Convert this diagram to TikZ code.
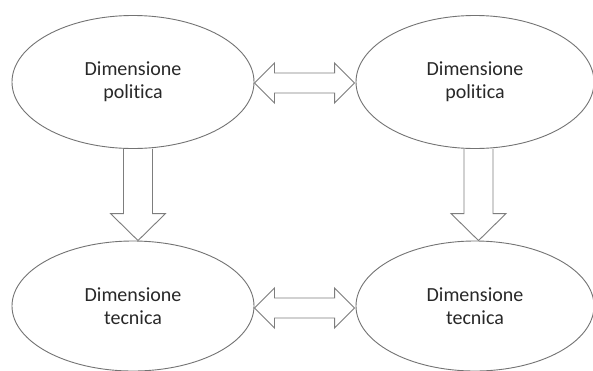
\documentclass[tikz,border=0pt]{standalone}
\usepackage{fontspec}
\setmainfont[Ligatures={NoCommon}]{Carlito}
\usetikzlibrary{shapes.geometric,calc}
\definecolor{elline}{RGB}{115,115,115}
\definecolor{arline}{RGB}{125,125,125}
\definecolor{txt}{RGB}{40,40,40}
\tikzset{
  ell/.style={ellipse, draw=elline, line width=0.9pt, inner sep=0pt,
    minimum width=242pt, minimum height=133pt, align=center,
    text=txt, font=\fontsize{20pt}{23pt}\selectfont},
  blk/.style={draw=arline, line width=0.9pt, line join=miter}
}
\begin{document}
\begin{tikzpicture}[x=1pt,y=-1pt]
\useasboundingbox (0,0) rectangle (593,370);
\fill[white] (0,0) rectangle (593,370);
\node[ell] (pl) at (133,82) {Dimensione\\politica};
\node[ell, minimum width=238pt] (pr) at (475,82) {Dimensione\\politica};
\node[ell, minimum height=130pt] (tl) at (133,306) {Dimensione\\tecnica};
\node[ell, minimum width=238pt, minimum height=130pt] (tr) at (475,306) {Dimensione\\tecnica};
% horizontal double arrows
\coordinate (L1) at ($(pl.east)+(0,1)$);
\coordinate (R1) at ($(pr.west)+(-1,1)$);
\coordinate (L2) at ($(tl.east)+(0,2)$);
\coordinate (R2) at ($(tr.west)+(-1,2)$);
\foreach \l/\r in {L1/R1, L2/R2}{
  \draw[blk] (\l) -- ($(\l)+(20,-20)$) -- ($(\l)+(20,-10)$)
    -- ($(\r)+(-20,-10)$) -- ($(\r)+(-20,-20)$) -- (\r)
    -- ($(\r)+(-20,20)$) -- ($(\r)+(-20,10)$)
    -- ($(\l)+(20,10)$) -- ($(\l)+(20,20)$) -- cycle;
}
% vertical arrows
\coordinate (T1) at ($(pl.south)+(5,0)$);
\coordinate (B1) at ($(tl.north)+(5,0)$);
\coordinate (T2) at ($(pr.south)+(3.5,0)$);
\coordinate (B2) at ($(tr.north)+(3.5,0)$);
\foreach \t/\b in {T1/B1, T2/B2}{
  \draw[blk] ($(\t)+(-14.5,0)$) -- ($(\b)+(-14.5,-27)$) -- ($(\b)+(-27.5,-27)$)
    -- (\b) -- ($(\b)+(27.5,-27)$) -- ($(\b)+(14.5,-27)$) -- ($(\t)+(14.5,0)$);
}
\end{tikzpicture}
\end{document}
